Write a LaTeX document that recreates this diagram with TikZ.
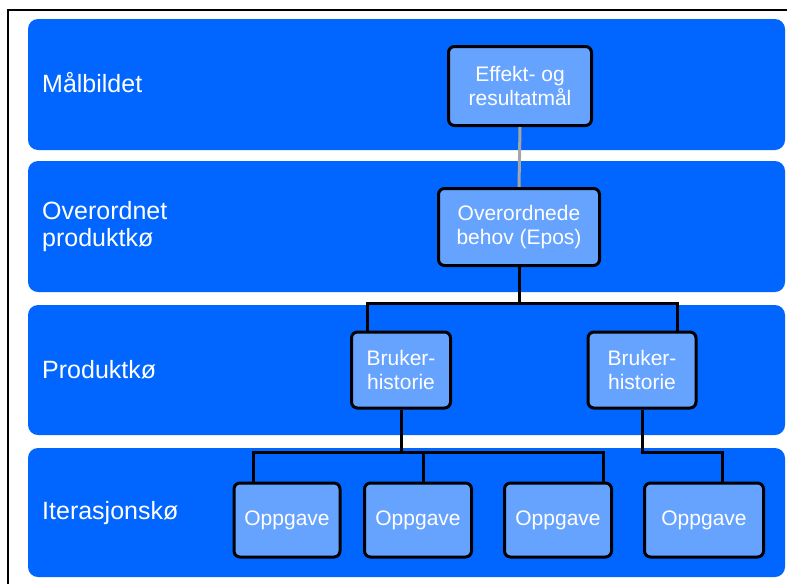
\documentclass[tikz,border=0pt]{standalone}
\usepackage{fontspec}
\setmainfont{Liberation Sans}
\definecolor{bandblue}{HTML}{0066FF}
\definecolor{boxblue}{HTML}{66A3FF}
\tikzset{
  band/.style={fill=bandblue, rounded corners=10pt},
  level/.style={anchor=west, text=white, font=\fontsize{25}{27}\selectfont, align=left, inner sep=0pt},
  item/.style={draw=black, line width=3pt, fill=boxblue, rounded corners=6pt, text=white,
    font=\fontsize{21}{24}\selectfont, align=center, inner sep=0pt, minimum height=76pt},
  tree/.style={line width=3pt, black},
}
\begin{document}
\begin{tikzpicture}[x=1pt, y=-1pt]
\useasboundingbox (0,0) rectangle (787,584);
\draw[line width=2pt] (8,584) -- (8,10) -- (787,10);

% bands
\fill[band] (28,19) rectangle (785,150);
\fill[band] (28,161) rectangle (785,292);
\fill[band] (28,305) rectangle (785,435);
\fill[band] (28,448) rectangle (785,577);

\node[level] (l1) at (42,83) {Målbildet};
\node[level] (l2) at (42,227) {Overordnet\\produktkø};
\node[level] (l3) at (42,370) {Produktkø};
\node[level] (l4) at (42,513) {Iterasjonskø};

% nodes
\node[item, minimum width=143pt, minimum height=79pt] (goal) at (520,86) {Effekt- og\\resultatmål};
\node[item, minimum width=161pt, minimum height=77pt] (epos) at (519,227) {Overordnede\\behov (Epos)};
\node[item, minimum width=99pt] (bh1) at (401,370) {Bruker-\\historie};
\node[item, minimum width=108pt] (bh2) at (642,370) {Bruker-\\historie};
\node[item, minimum width=106pt, minimum height=74pt] (op1) at (287,520) {Oppgave};
\node[item, minimum width=107pt, minimum height=74pt] (op2) at (418,520) {Oppgave};
\node[item, minimum width=107pt, minimum height=74pt] (op3) at (558,520) {Oppgave};
\node[item, minimum width=119pt, minimum height=74pt] (op4) at (704,520) {Oppgave};

\coordinate (j1) at (519,303);
\coordinate (j2) at (401,452);
\coordinate (j3) at (642,452);

% lines
\draw[line width=3pt, gray!70] (goal.south) -- (epos.north);
\draw[tree] (epos.south) -- (j1);
\draw[tree] ([xshift=-34pt]bh1.north) |- (j1) -| ([xshift=35pt]bh2.north);
\draw[tree] (bh1.south) -- (j2);
\draw[tree] ([xshift=-34pt]op1.north) |- (j2) -| ([xshift=45pt]op3.north);
\draw[tree] ([xshift=5pt]op2.north) -- ([xshift=5pt]op2.north |- j2);
\draw[tree] (bh2.south) -- (j3) -| ([xshift=18pt]op4.north);

\end{tikzpicture}
\end{document}
